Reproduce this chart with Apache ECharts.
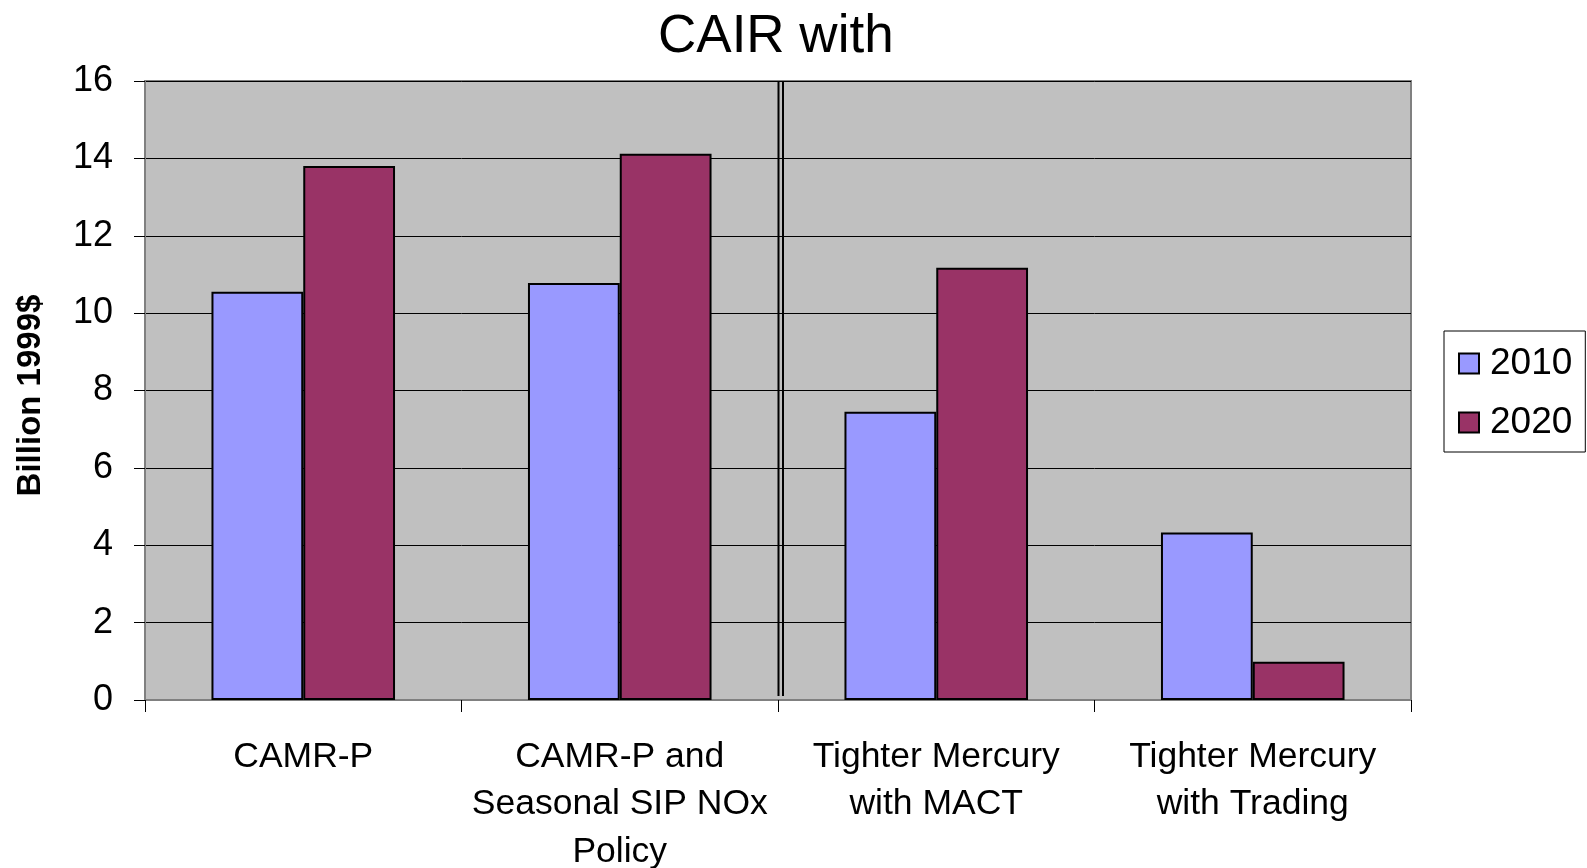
<!DOCTYPE html>
<html>
<head>
<meta charset="utf-8">
<script src="https://cdn.jsdelivr.net/npm/echarts@6/dist/echarts.min.js"></script>
<style>
html,body{margin:0;padding:0;background:#fff;}
#chart{width:1587px;height:868px;}
</style>
</head>
<body>
<div id="chart"></div>
<script>
const categories = ['CAMR-P', 'CAMR-P and\nSeasonal SIP NOx\nPolicy', 'Tighter Mercury\nwith MACT', 'Tighter Mercury\nwith Trading'];
const seriesNames = ['2010', '2020'];
const values2010 = [10.55, 10.78, 7.45, 4.33];
const values2020 = [13.8, 14.12, 11.17, 0.99];
const titleText = 'CAIR with';
const yAxisName = 'Billion 1999$';
const yMin = 0, yMax = 16, yInterval = 2;

const FONT = 'Liberation Sans, Arial, sans-serif';
const chart = echarts.init(document.getElementById('chart'), null, {renderer: 'canvas'});
const grid = {left: 145, right: 176, top: 81, bottom: 168};

chart.setOption({
  backgroundColor: '#ffffff',
  animation: false,
  title: {
    text: titleText, left: 658, top: 11, padding: 0,
    textStyle: {fontFamily: FONT, fontSize: 53, fontWeight: 'normal', color: '#000'}
  },
  legend: {
    orient: 'vertical', left: 1444, top: 331, padding: [14, 13, 11, 14],
    itemGap: 22, itemWidth: 20, itemHeight: 20, icon: 'rect',
    borderColor: '#000', borderWidth: 1, backgroundColor: '#fff',
    textStyle: {fontFamily: FONT, fontSize: 37, color: '#000', padding: [0,0,0,6]},
    data: seriesNames
  },
  grid: Object.assign({show: true, outerBoundsMode: 'none', containLabel: false,
    backgroundColor: '#c0c0c0', borderColor: '#808080', borderWidth: 2}, grid),
  xAxis: {
    type: 'category', data: categories,
    axisLine: {show: true, lineStyle: {color: '#808080', width: 2}},
    axisTick: {show: true, length: 12, lineStyle: {color: '#000', width: 1}},
    axisLabel: {fontFamily: FONT, fontSize: 35.5, color: '#000', lineHeight: 47.5, margin: 33, interval: 0},
    splitLine: {show: false}
  },
  yAxis: {
    type: 'value', min: yMin, max: yMax, interval: yInterval,
    name: yAxisName, nameLocation: 'middle', nameGap: 98, nameRotate: 90,
    nameTextStyle: {fontFamily: FONT, fontSize: 33, fontWeight: 'bold', color: '#000', padding: [0, 10, 0, 0]},
    axisLine: {show: true, lineStyle: {color: '#808080', width: 2}},
    axisTick: {show: true, length: 11, lineStyle: {color: '#000', width: 1}},
    axisLabel: {fontFamily: FONT, fontSize: 36, color: '#000', margin: 32},
    splitLine: {show: true, lineStyle: {color: '#000', width: 1}}
  },
  series: [
    {name: seriesNames[0], type: 'bar', data: values2010, barGap: '0%', barCategoryGap: '42%',
     itemStyle: {color: '#9999ff', borderColor: '#000', borderWidth: 2}},
    {name: seriesNames[1], type: 'bar', data: values2020, barGap: '0%', barCategoryGap: '42%',
     itemStyle: {color: '#993366', borderColor: '#000', borderWidth: 2}}
  ]
});

// divider double line between 2nd and 3rd category, computed from the axes
const c1 = chart.convertToPixel({xAxisIndex: 0}, 1);
const c2 = chart.convertToPixel({xAxisIndex: 0}, 2);
const xDiv = (c1 + c2) / 2;
const yTop = chart.convertToPixel({yAxisIndex: 0}, yMax);
const yBot = chart.convertToPixel({yAxisIndex: 0}, yMin) - 4;
chart.setOption({
  graphic: [
    {type: 'line', shape: {x1: xDiv + 0.5, y1: yTop, x2: xDiv + 0.5, y2: yBot}, style: {stroke: '#000', lineWidth: 2}, z: 100},
    {type: 'line', shape: {x1: xDiv + 5, y1: yTop, x2: xDiv + 5, y2: yBot}, style: {stroke: '#000', lineWidth: 2}, z: 100}
  ]
});
</script>
</body>
</html>
